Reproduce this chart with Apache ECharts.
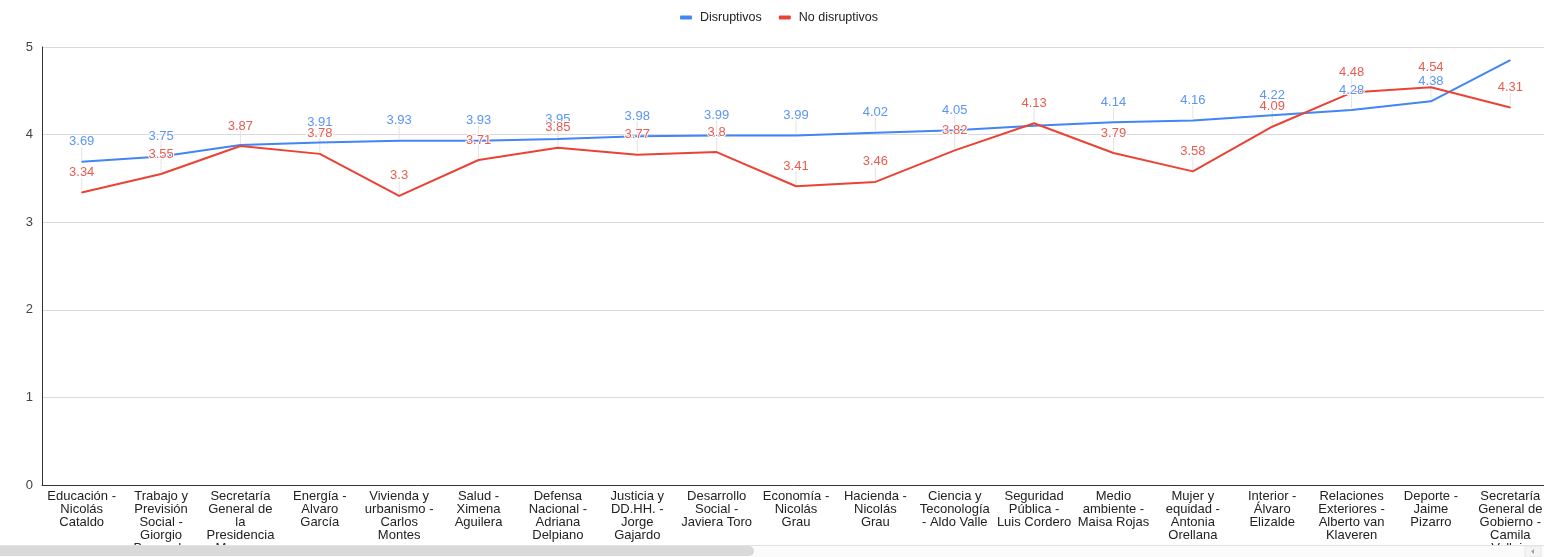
<!DOCTYPE html>
<html>
<head>
<meta charset="utf-8">
<script src="https://cdn.jsdelivr.net/npm/echarts@6/dist/echarts.min.js"></script>
<style>
  html, body { margin: 0; padding: 0; background: #fff; }
  #chart { width: 1544px; height: 557px; }
</style>
</head>
<body>
<div id="chart"></div>
<script>
// Ministries (category axis), pre-wrapped the way they read under each point
const categories = [
  "Educación -\nNicolás\nCataldo",
  "Trabajo y\nPrevisión\nSocial -\nGiorgio\nBoccardo",
  "Secretaría\nGeneral de\nla\nPresidencia\n- Macarena\nLobos",
  "Energía -\nAlvaro\nGarcía",
  "Vivienda y\nurbanismo -\nCarlos\nMontes",
  "Salud -\nXimena\nAguilera",
  "Defensa\nNacional -\nAdriana\nDelpiano",
  "Justicia y\nDD.HH. -\nJorge\nGajardo",
  "Desarrollo\nSocial -\nJaviera Toro",
  "Economía -\nNicolás\nGrau",
  "Hacienda -\nNicolás\nGrau",
  "Ciencia y\nTeconología\n- Aldo Valle",
  "Seguridad\nPública -\nLuis Cordero",
  "Medio\nambiente -\nMaisa Rojas",
  "Mujer y\nequidad -\nAntonia\nOrellana",
  "Interior -\nÁlvaro\nElizalde",
  "Relaciones\nExteriores -\nAlberto van\nKlaveren",
  "Deporte -\nJaime\nPizarro",
  "Secretaría\nGeneral de\nGobierno -\nCamila\nVallejo"
];

const seriesNames = ["Disruptivos", "No disruptivos"];

const disruptivos = [3.69, 3.75, 3.88, 3.91, 3.93, 3.93, 3.95, 3.98, 3.99, 3.99,
                     4.02, 4.05, 4.10, 4.14, 4.16, 4.22, 4.28, 4.38, 4.85];
const noDisruptivos = [3.34, 3.55, 3.87, 3.78, 3.30, 3.71, 3.85, 3.77, 3.80, 3.41,
                       3.46, 3.82, 4.13, 3.79, 3.58, 4.09, 4.48, 4.54, 4.31];

// Points whose value annotation is not drawn (covered by a neighbour or off the top)
const disruptivosNoLabel = [2, 12, 18];
const noDisruptivosNoLabel = [];

const yTicks = { min: 0, max: 5, interval: 1 };

const BLUE = "#4285f4";
const RED = "#ea4335";
const BLUE_TEXT = "#5b95f6";
const RED_TEXT = "#e95b50";
const FONT = "Liberation Sans, Arial, sans-serif";

function lineData(values, skip) {
  return values.map((v, i) => skip.includes(i)
    ? { value: v, label: { show: false } }
    : v);
}

function stemData(values, skip) {
  return values.map((v, i) => [i, v]).filter((d) => !skip.includes(d[0]));
}

// Thin annotation stems from each point up to its value label
function renderStem(params, api) {
  const p = api.coord([api.value(0), api.value(1)]);
  return {
    type: "line",
    shape: { x1: p[0], y1: p[1] - 2, x2: p[0], y2: p[1] - 15 },
    style: { stroke: "#e3e3e3", lineWidth: 1 },
    silent: true
  };
}

function lineSeries(name, values, skip, color, textColor) {
  return {
    name: name,
    type: "line",
    data: lineData(values, skip),
    symbol: "circle",
    symbolSize: 1,
    showSymbol: true,
    lineStyle: { color: color, width: 2 },
    itemStyle: { color: color },
    z: 3,
    label: {
      show: true,
      position: "top",
      distance: 13,
      color: textColor,
      fontFamily: FONT,
      fontSize: 13,
      textBorderColor: "#fff",
      textBorderWidth: 2
    }
  };
}

const chart = echarts.init(document.getElementById("chart"), null, { renderer: "canvas" });

chart.setOption({
  animation: false,
  backgroundColor: "#fff",
  legend: {
    data: seriesNames,
    left: 675,
    top: 6,
    itemWidth: 12,
    itemHeight: 4,
    itemGap: 17,
    icon: "roundRect",
    textStyle: { color: "#222", fontFamily: FONT, fontSize: 12.5, padding: [0, 0, 0, 3] }
  },
  grid: {
    left: 42, top: 47, width: 1508, height: 438,
    containLabel: false,
    outerBoundsMode: "none"
  },
  xAxis: {
    type: "category",
    data: categories,
    boundaryGap: true,
    axisLine: { show: true, lineStyle: { color: "#333", width: 1 } },
    axisTick: { show: false },
    axisLabel: {
      interval: 0,
      color: "#222",
      fontFamily: FONT,
      fontSize: 13,
      lineHeight: 13,
      margin: 5,
      align: "center"
    },
    splitLine: { show: false }
  },
  yAxis: {
    type: "value",
    min: yTicks.min,
    max: yTicks.max,
    interval: yTicks.interval,
    axisLine: { show: true, lineStyle: { color: "#333", width: 1 } },
    axisTick: { show: false },
    axisLabel: { color: "#444", fontFamily: FONT, fontSize: 13, margin: 9 },
    splitLine: { show: true, lineStyle: { color: "#d9d9d9", width: 1 } }
  },
  series: [
    {
      name: "stems-a",
      type: "custom",
      renderItem: renderStem,
      data: stemData(disruptivos, disruptivosNoLabel),
      z: 1,
      silent: true
    },
    {
      name: "stems-b",
      type: "custom",
      renderItem: renderStem,
      data: stemData(noDisruptivos, noDisruptivosNoLabel),
      z: 1,
      silent: true
    },
    lineSeries(seriesNames[0], disruptivos, disruptivosNoLabel, BLUE, BLUE_TEXT),
    lineSeries(seriesNames[1], noDisruptivos, noDisruptivosNoLabel, RED, RED_TEXT)
  ],
  graphic: [
    // horizontal scroll strip along the bottom edge
    { type: "rect", z: 100, shape: { x: 0, y: 545, width: 1544, height: 12 },
      style: { fill: "#fbfbfb" } },
    { type: "line", z: 101, shape: { x1: 0, y1: 545.5, x2: 1544, y2: 545.5 },
      style: { stroke: "#e2e2e2", lineWidth: 1 } },
    { type: "rect", z: 102, shape: { x: 0, y: 546, width: 754, height: 10, r: [0, 5, 5, 0] },
      style: { fill: "#dadada" } },
    { type: "rect", z: 102, shape: { x: 1525, y: 546, width: 16, height: 11 },
      style: { fill: "#f4f4f4", stroke: "#e6e6e6", lineWidth: 1 } },
    { type: "polygon", z: 103, shape: { points: [[1531, 551.5], [1534, 549], [1534, 554]] },
      style: { fill: "#a3a3a3" } }
  ]
});
</script>
</body>
</html>
